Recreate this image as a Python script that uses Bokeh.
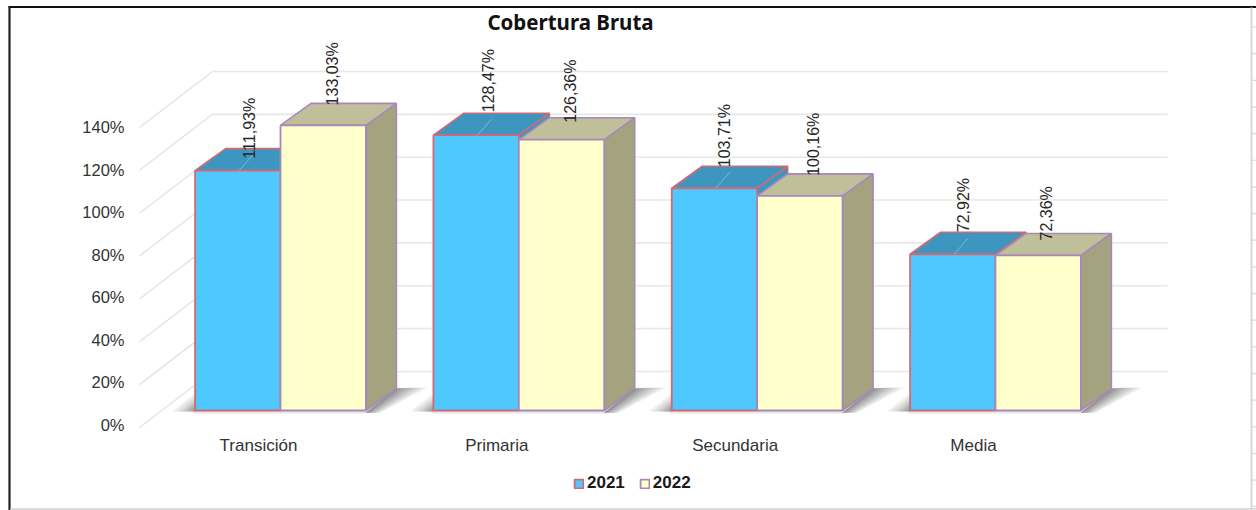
from bokeh.plotting import figure
from bokeh.models import Range1d, LinearAxis, FixedTicker, PrintfTickFormatter, Legend, LegendItem
from bokeh.core.properties import value
from bokeh.embed import file_html
from bokeh.resources import INLINE
import math

categories = ["Transición", "Primaria", "Secundaria", "Media"]
values_2021 = [111.93, 128.47, 103.71, 72.92]
values_2022 = [133.03, 126.36, 100.16, 72.36]
labels_2021 = ["111,93%", "128,47%", "103,71%", "72,92%"]
labels_2022 = ["133,03%", "126,36%", "100,16%", "72,36%"]
series_names = ["2021", "2022"]
y_ticks = [0, 20, 40, 60, 80, 100, 120, 140]
title_text = "Cobertura Bruta"

# label nudges in px (x from bar left, y above bar top)
nudge_2021 = [(54, 12), (55, 23), (53, 21), (53, 22)]
nudge_2022 = [(52, 20), (52, 17), (56, 20), (51, 15)]

W, H = 1256, 510
S = 238.33       # px per category
PY = 2.143       # px per percent
X0, Y0 = 280.0, 410.0   # px of first group's centre / of 0 %
def U(px): return px / S          # px length -> x units
def V(px): return px / PY         # px length -> y units
def sx(px): return (px - X0) / S  # page px -> x data
def sy(px): return (Y0 - px) / PY # page px -> y data

p = figure(width=W, height=H, output_backend="svg", toolbar_location=None,
           x_range=Range1d(sx(0), sx(W)), y_range=Range1d(sy(H), sy(0)),
           x_axis_type=None, y_axis_type=None, min_border=0,
           outline_line_color=None, background_fill_color="white", border_fill_color="white",
           margin=(0, 0, 0, 0))
p.xgrid.visible = False
p.ygrid.visible = False

# sheet frame
p.segment([sx(8)], [sy(6.5)], [sx(W)], [sy(6.5)], line_color="#111111", line_width=2)
p.segment([sx(9)], [sy(6)], [sx(9)], [sy(H)], line_color="#222222", line_width=2.2)
p.segment([sx(10)], [sy(508.5)], [sx(W)], [sy(508.5)], line_color="#dddddd", line_width=2)
p.segment([sx(1251)], [sy(7)], [sx(1251)], [sy(H)], line_color="#d8d8d8", line_width=2)
rows = [26.5 + 26.65 * i for i in range(19)]
p.segment([sx(1252)] * 19, [sy(r) for r in rows], [sx(W)] * 19, [sy(r) for r in rows],
          line_color="#d8d8d8", line_width=1.2)

# back wall and side wall gridlines (back wall 0 % is 39 px above the bars' front 0 %)
p.segment([sx(212)] * 8, [t + V(39) for t in y_ticks], [sx(1167)] * 8, [t + V(39) for t in y_ticks],
          line_color="#e8e8e8", line_width=1.6)
p.segment([sx(139)] * 8, [t + V(39 - 56) for t in y_ticks], [sx(212)] * 8, [t + V(39) for t in y_ticks],
          line_color="#e2e2e2", line_width=1.3)

BW = U(85.4)
DXX, DYY = U(30.5), V(22)

# floor shadows, built up from translucent layers
for i in range(len(categories)):
    left, right = i - BW, i + BW
    for w in (2, 4, 6, 8, 10, 13, 16, 19, 23, 27, 31):
        p.patch([right, right + DXX, right + DXX + U(w), right + U(w * 0.45)],
                [V(-2), DYY, DYY + V(1), V(-2.5)],
                fill_color="#606060", fill_alpha=0.10, line_color=None)
    for w in (2, 4, 6, 8, 10, 12, 15, 19, 23):
        p.patch([left, left, left - U(w)], [V(-1), V(w * 0.75), V(-1)],
                fill_color="#606060", fill_alpha=0.10, line_color=None)
    p.patch([left - U(2), right + U(2), right + U(2), left - U(2)], [0, 0, V(-3), V(-3)],
            fill_color="#909090", fill_alpha=0.22, line_color=None)

def faces(vals, x0, x1):
    front, top, side = ([], []), ([], []), ([], [])
    for i, v in enumerate(vals):
        l, r = i + x0, i + x1
        front[0].append([l, r, r, l]); front[1].append([0, 0, v, v])
        top[0].append([l, r, r + DXX, l + DXX]); top[1].append([v, v, v + DYY, v + DYY])
        side[0].append([r, r + DXX, r + DXX, r]); side[1].append([0, DYY, v + DYY, v])
    return front, top, side

def bars(vals, x0, x1, col, topcol, sidecol, edge):
    front, top, side = faces(vals, x0, x1)
    p.patches(side[0], side[1], fill_color=sidecol, line_color=edge, line_width=1.6)
    p.patches(top[0], top[1], fill_color=topcol, line_color=edge, line_width=1.6)
    return p.patches(front[0], front[1], fill_color=col, line_color=edge, line_width=1.8)

r21 = bars(values_2021, -BW, 0, "#4fc8ff", "#3d96bf", "#3d96bf", "#cf6a74")
# thin leader lines across the blue top faces
p.segment([i - BW + U(44) for i in range(4)], values_2021,
          [i - BW + U(58) for i in range(4)], [v + V(16) for v in values_2021],
          line_color="#8fb4c4", line_width=1)
r22 = bars(values_2022, 0, BW, "#ffffcc", "#bfbf99", "#a3a380", "#a888bb")

# data labels
lx, ly, lt = [], [], []
for i in range(4):
    lx.append(i - BW + U(nudge_2021[i][0])); ly.append(values_2021[i] + V(nudge_2021[i][1])); lt.append(labels_2021[i])
    lx.append(i + U(nudge_2022[i][0])); ly.append(values_2022[i] + V(nudge_2022[i][1])); lt.append(labels_2022[i])
p.text(lx, ly, text=lt, angle=math.pi / 2, text_align="left", text_baseline="middle",
       text_font=value("Liberation Sans"), text_font_size="16px", text_color="#262626")

# title
p.text([sx(570)], [sy(21.5)], text=[title_text], text_align="center", text_baseline="middle",
       text_font=value("Noto Sans"), text_font_style="bold", text_font_size="20.5px", text_color="#111111")

# value axis: on the front edge of the side wall, 14 px below the bars' 0 %
PYA = 2.125
p.extra_y_ranges["wall"] = Range1d((424 - H) / PYA, 424 / PYA)
yaxis = LinearAxis(y_range_name="wall", ticker=FixedTicker(ticks=y_ticks),
                   formatter=PrintfTickFormatter(format="%d%%"),
                   axis_line_color=None, major_tick_line_color=None, minor_tick_line_color=None,
                   major_tick_in=0, major_tick_out=0, major_label_standoff=0,
                   major_label_text_font="Liberation Sans", major_label_text_font_size="16.5px",
                   major_label_text_color="#333333")
yaxis.fixed_location = sx(124)
p.add_layout(yaxis, "left")

# category axis: labels sit 22 px to the left of the groups
p.extra_x_ranges["cats"] = Range1d(sx(0) + U(22), sx(W) + U(22))
xaxis = LinearAxis(x_range_name="cats", ticker=FixedTicker(ticks=list(range(len(categories)))),
                   major_label_overrides={i: c for i, c in enumerate(categories)},
                   axis_line_color=None, major_tick_line_color=None, minor_tick_line_color=None,
                   major_tick_in=0, major_tick_out=0, major_label_standoff=0,
                   major_label_text_font="Liberation Sans", major_label_text_font_size="17px",
                   major_label_text_color="#333333")
xaxis.fixed_location = sy(435)
p.add_layout(xaxis, "below")

legend = Legend(items=[LegendItem(label=series_names[0], renderers=[r21], index=0),
                       LegendItem(label=series_names[1], renderers=[r22], index=0)],
                orientation="horizontal", location=(568, 17), background_fill_alpha=0,
                border_line_color=None, padding=6, margin=0, spacing=14,
                glyph_width=11, glyph_height=11, label_standoff=3,
                label_text_font="Liberation Sans", label_text_font_style="bold",
                label_text_font_size="17px", label_text_color="#1a1a1a")
legend.location = (573, 17)
p.add_layout(legend, "center")

open("out.html", "w").write(file_html(p, INLINE))
